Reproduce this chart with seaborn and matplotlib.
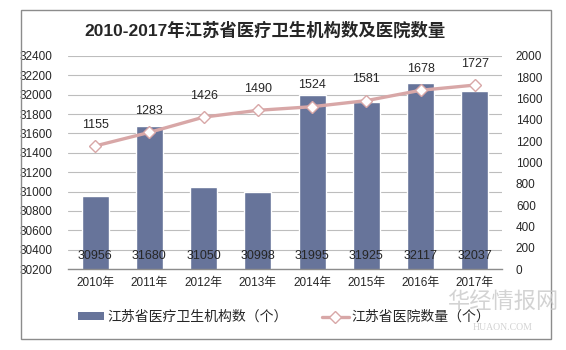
import numpy as np
import pandas as pd
import matplotlib
matplotlib.use("Agg")
import matplotlib.pyplot as plt
from matplotlib.patches import Rectangle
from matplotlib.lines import Line2D
from matplotlib.patches import Patch
import seaborn as sns

years = ["2010年", "2011年", "2012年", "2013年", "2014年", "2015年", "2016年", "2017年"]
institutions = [30956, 31680, 31050, 30998, 31995, 31925, 32117, 32037]
hospitals = [1155, 1283, 1426, 1490, 1524, 1581, 1678, 1727]
left_ticks = list(range(30200, 32401, 200))
right_ticks = list(range(0, 2001, 200))

bar_label = "江苏省医疗卫生机构数（个）"
line_label = "江苏省医院数量（个）"
title = "2010-2017年江苏省医疗卫生机构数及医院数量"

sns.set_theme(style="white")
plt.rcParams["font.family"] = ["Liberation Sans", "Noto Sans CJK SC", "DejaVu Sans"]

bar_color = "#67749a"
line_color = "#d8a7a7"
text_color = "#262626"
tick_fs = 8.5
value_fs = 9

df = pd.DataFrame({"year": years, "inst": institutions, "hosp": hospitals,
                   "pos": np.arange(len(years))})

fig = plt.figure(figsize=(5.66, 3.5), dpi=100)
ax = fig.add_axes([68 / 566, 1 - 269 / 350, 434 / 566, 213 / 350])

# outer frame around the whole chart
fig.patches.append(Rectangle((21 / 566, 1 - 339 / 350), 530 / 566, 329 / 350,
                             transform=fig.transFigure, fill=False,
                             edgecolor="#8c8c8c", linewidth=1.0))

sns.barplot(data=df, x="year", y="inst", color=bar_color, width=0.5,
            saturation=1, ax=ax, zorder=2)
ax.set_ylim(30200, 32400)
ax.set_yticks(left_ticks)
ax.set_yticklabels([str(t) for t in left_ticks], fontsize=tick_fs, color=text_color)
ax.set_xlim(-0.5, len(years) - 0.5)
ax.set_xlabel("")
ax.set_ylabel("")
ax.grid(axis="y", color="#bdbdbd", linewidth=0.8, zorder=0)
ax.set_axisbelow(True)
for s in ["left", "right", "top"]:
    ax.spines[s].set_visible(False)
ax.spines["bottom"].set_color("#8c8c8c")
ax.spines["bottom"].set_linewidth(1.0)
ax.tick_params(axis="y", length=0, pad=11)
ax.tick_params(axis="x", which="major", length=0, labelsize=tick_fs,
               colors=text_color, pad=6)
ax.set_xticks(np.arange(-0.5, len(years), 1.0), minor=True)
ax.tick_params(axis="x", which="minor", length=4, color="#8c8c8c", width=0.8)

for i, v in enumerate(institutions):
    ax.text(i, 30200 + 135, str(v), ha="center", va="center",
            fontsize=value_fs, color=text_color, zorder=5)

ax2 = ax.twinx()
sns.lineplot(data=df, x="pos", y="hosp", ax=ax2, color=line_color,
             linewidth=2.4, marker="D", markersize=6.5,
             markerfacecolor="white", markeredgecolor=line_color,
             markeredgewidth=1.0, zorder=4)
ax2.set_ylim(0, 2000)
ax2.set_yticks(right_ticks)
ax2.set_yticklabels([str(t) for t in right_ticks], fontsize=tick_fs, color=text_color)
ax2.tick_params(axis="y", length=0, pad=10)
ax2.set_ylabel("")
ax2.set_xlabel("")
for s in ["left", "right", "top", "bottom"]:
    ax2.spines[s].set_visible(False)
ax2.set_xlim(-0.5, len(years) - 0.5)

for i, v in enumerate(hospitals):
    ax2.annotate(str(v), (i, v), xytext=(0, 11), textcoords="offset points",
                 ha="center", va="bottom", fontsize=value_fs, color=text_color)

fig.text(265 / 566, 1 - 30 / 350, title, ha="center", va="center",
         fontsize=12.5, fontweight="bold", color=text_color)

handles = [Patch(facecolor=bar_color, edgecolor="none"),
           Line2D([0], [0], color=line_color, linewidth=2.4, marker="D",
                  markersize=6.5, markerfacecolor="white",
                  markeredgecolor=line_color)]
fig.legend(handles, [bar_label, line_label], loc="center",
           bbox_to_anchor=(284 / 566, 1 - 317 / 350), ncol=2, frameon=False,
           fontsize=10, handlelength=1.9, handleheight=0.45,
           columnspacing=2.5, handletextpad=0.2, labelcolor=text_color)

# site mark in the lower right corner
fig.text(503 / 566, 1 - 302 / 350, "华经情报网", ha="center", va="center",
         fontsize=16, color="#c8c8c8", alpha=0.8)
fig.text(503 / 566, 1 - 327 / 350, "HUAON.COM", ha="center", va="center",
         fontsize=7, color="#c8c8c8", alpha=0.8, family="Liberation Serif")

fig.savefig("out.png", dpi=100)
